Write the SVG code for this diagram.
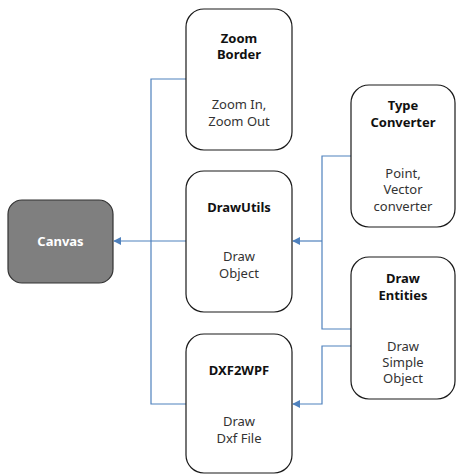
<svg xmlns="http://www.w3.org/2000/svg" width="456" height="475" viewBox="0 0 456 475">
  <style>
    .box { fill: #ffffff; stroke: #1a1a1a; stroke-width: 1.2; }
    .dark { fill: #7f7f7f; stroke: #333333; stroke-width: 1.2; }
    .title { font-family: "Noto Sans", "Open Sans", sans-serif; font-size: 13px; font-weight: bold; fill: #111111; text-anchor: middle; }
    .body { font-family: "Noto Sans", "Open Sans", sans-serif; font-size: 13px; fill: #333333; text-anchor: middle; }
    .white { fill: #ffffff; }
    .link { fill: none; stroke: #4f81bd; stroke-width: 1.2; }
  </style>
  <defs>
    <marker id="arrow" viewBox="0 0 10 10" refX="9" refY="5" markerWidth="8" markerHeight="8" markerUnits="userSpaceOnUse" orient="auto">
      <path d="M0,0 L10,5 L0,10 z" fill="#4f81bd"/>
    </marker>
  </defs>

  <rect width="456" height="475" fill="#ffffff"/>

  <!-- connectors -->
  <g id="connectors">
    <path class="link" d="M186,79 H151 V404 H186"/>
    <path class="link" d="M186,241 H114" marker-end="url(#arrow)"/>
    <path class="link" d="M351,156 H322 V329 H351"/>
    <path class="link" d="M322,241 H293" marker-end="url(#arrow)"/>
    <path class="link" d="M351,346 H322 V404 H293" marker-end="url(#arrow)"/>
  </g>

  <g id="canvas">
    <rect class="dark" x="8" y="200" width="105" height="83" rx="14"/>
    <text class="title white" x="60.5" y="246">Canvas</text>
  </g>

  <g id="zoom-border">
    <rect class="box" x="186" y="9" width="106" height="141" rx="18"/>
    <text class="title" x="239" y="43">Zoom</text>
    <text class="title" x="239" y="59">Border</text>
    <text class="body" x="239" y="109">Zoom In,</text>
    <text class="body" x="239" y="126">Zoom Out</text>
  </g>

  <g id="draw-utils">
    <rect class="box" x="186" y="171" width="106" height="141" rx="18"/>
    <text class="title" x="239" y="212">DrawUtils</text>
    <text class="body" x="239" y="261">Draw</text>
    <text class="body" x="239" y="278">Object</text>
  </g>

  <g id="dxf2wpf">
    <rect class="box" x="186" y="334" width="106" height="139" rx="18"/>
    <text class="title" x="239" y="375">DXF2WPF</text>
    <text class="body" x="239" y="426">Draw</text>
    <text class="body" x="239" y="443">Dxf File</text>
  </g>

  <g id="type-converter">
    <rect class="box" x="351" y="85" width="104" height="142" rx="18"/>
    <text class="title" x="403" y="110">Type</text>
    <text class="title" x="403" y="127">Converter</text>
    <text class="body" x="403" y="178">Point,</text>
    <text class="body" x="403" y="194">Vector</text>
    <text class="body" x="403" y="211">converter</text>
  </g>

  <g id="draw-entities">
    <rect class="box" x="351" y="257" width="104" height="142" rx="18"/>
    <text class="title" x="403" y="283">Draw</text>
    <text class="title" x="403" y="300">Entities</text>
    <text class="body" x="403" y="351">Draw</text>
    <text class="body" x="403" y="367">Simple</text>
    <text class="body" x="403" y="383">Object</text>
  </g>
</svg>
